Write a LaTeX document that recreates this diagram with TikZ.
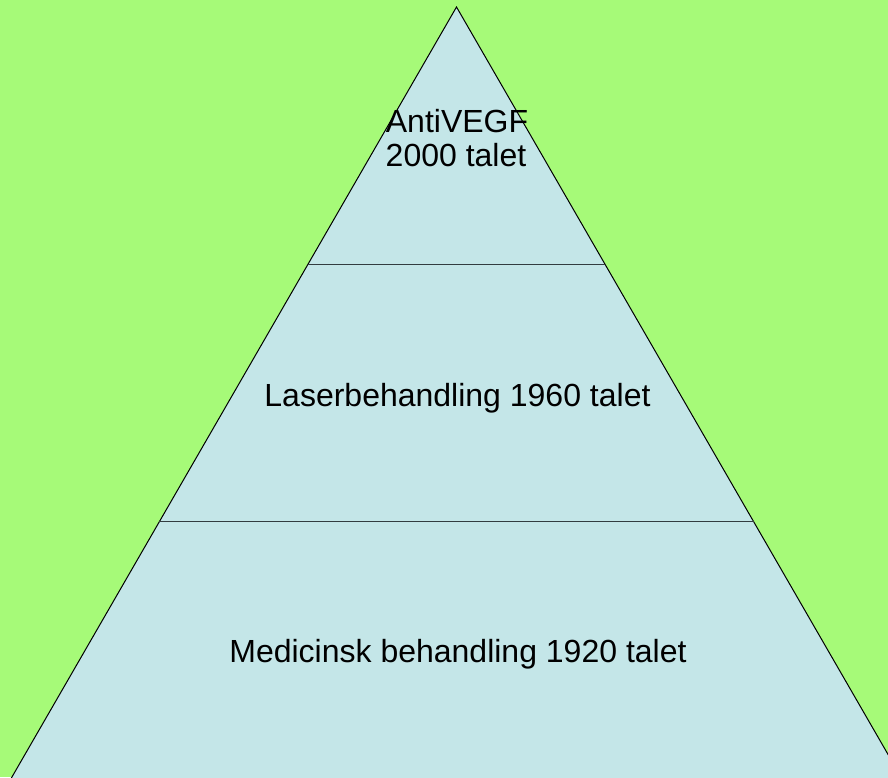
\documentclass[tikz,border=0pt]{standalone}
\usepackage{fontspec}
\setmainfont{Liberation Sans}
\definecolor{bggreen}{RGB}{166,250,120}
\definecolor{pyrblue}{RGB}{196,230,232}
\definecolor{divline}{RGB}{50,60,64}
\tikzset{
  lbl/.style={anchor=base, inner sep=0pt, font=\fontsize{32}{37}\selectfont, text=black},
  divider/.style={draw=divline, line width=1.2pt},
}
\begin{document}
\begin{tikzpicture}[x=1pt,y=-1pt]
\useasboundingbox (0,0) rectangle (888,777);
\fill[bggreen] (0,0) rectangle (888,777);
\begin{scope}
\clip (0,0) rectangle (888,777);
\filldraw[fill=pyrblue, draw=black, line width=1pt, line join=miter]
  (456.5,7) -- (456.5+0.57735*800,807) -- (456.5-0.57735*800,807) -- cycle;
\end{scope}
\coordinate (l1a) at (307.8,264.5);
\coordinate (l1b) at (605.2,264.5);
\coordinate (l2a) at (159.4,521.5);
\coordinate (l2b) at (753.6,521.5);
\draw[divider] (l1a) -- (l1b);
\draw[divider] (l2a) -- (l2b);
\node[lbl] (t1) at (457,132) {AntiVEGF};
\node[lbl] (t2) at (456,166) {2000 talet};
\node[lbl] (t3) at (457.5,406) {Laserbehandling 1960 talet};
\node[lbl] (t4) at (458,662) {Medicinsk behandling 1920 talet};
\end{tikzpicture}
\end{document}
